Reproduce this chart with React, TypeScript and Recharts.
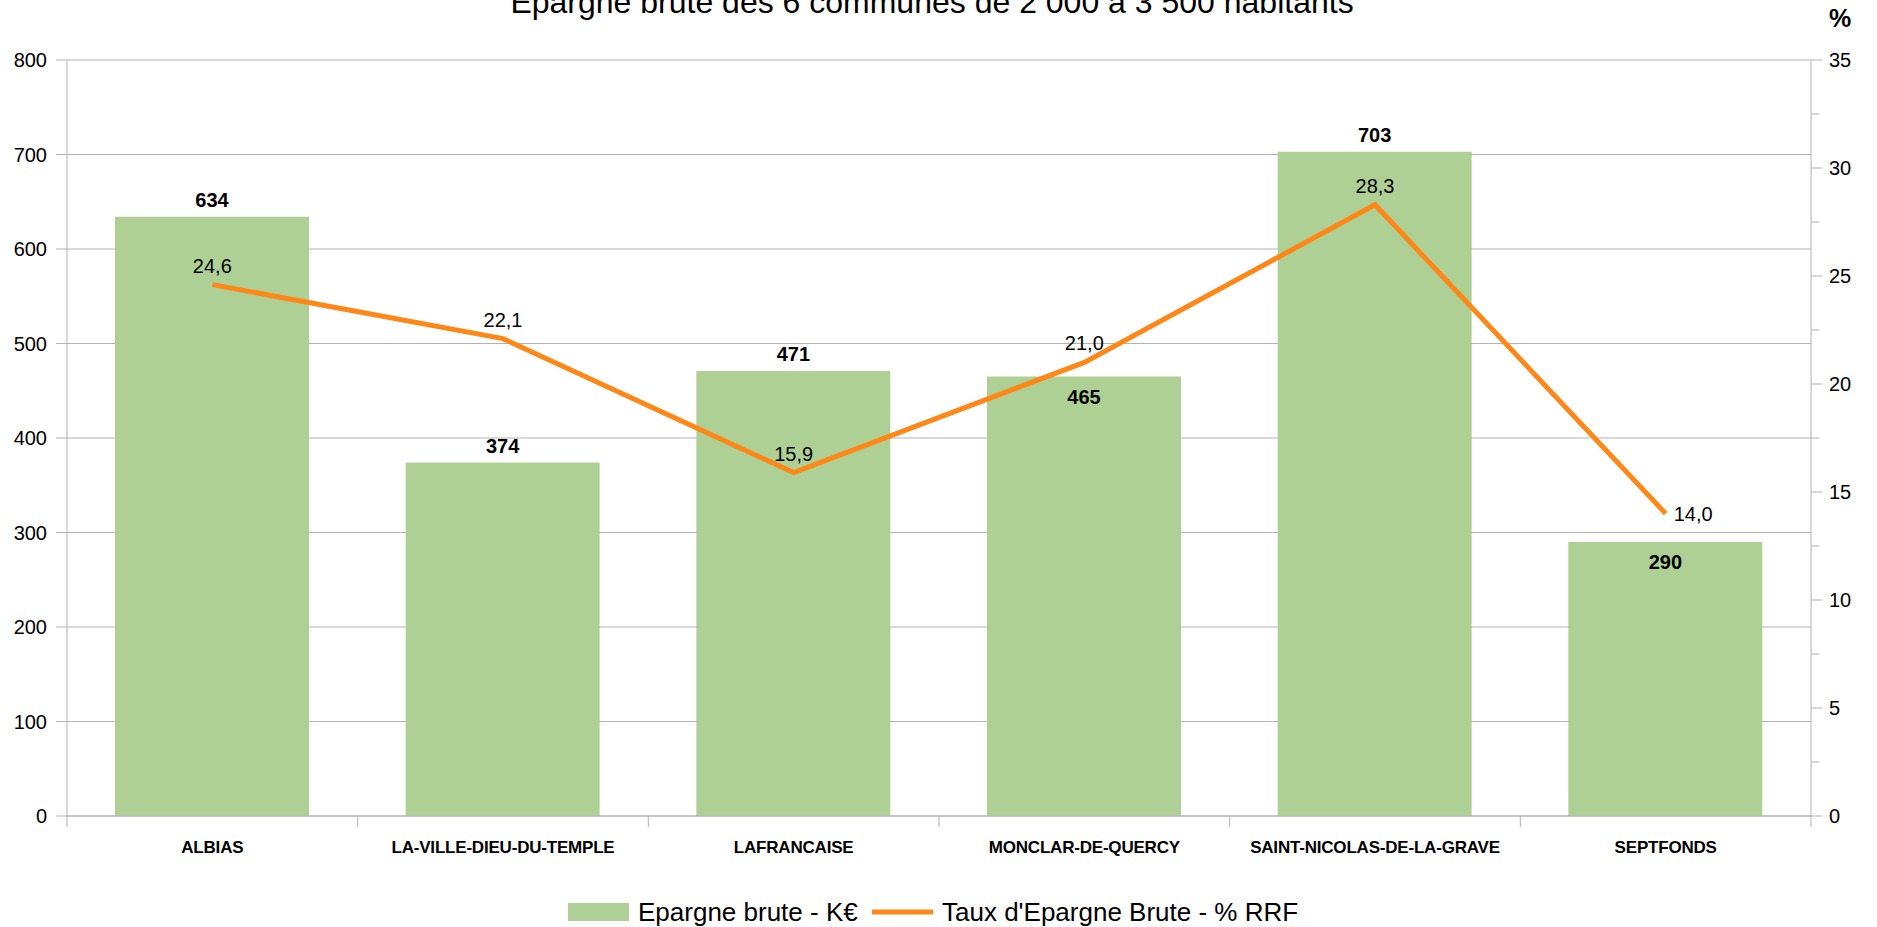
import { ComposedChart, Bar, Line, XAxis, YAxis, CartesianGrid, LabelList } from 'recharts';

const communes = [
  'ALBIAS',
  'LA-VILLE-DIEU-DU-TEMPLE',
  'LAFRANCAISE',
  'MONCLAR-DE-QUERCY',
  'SAINT-NICOLAS-DE-LA-GRAVE',
  'SEPTFONDS',
];
const epargneBrute = [634, 374, 471, 465, 703, 290];
const tauxEpargne = [24.6, 22.1, 15.9, 21.0, 28.3, 14.0];
const leftTicks = [0, 100, 200, 300, 400, 500, 600, 700, 800];
const rightTicks = [0, 2.5, 5, 7.5, 10, 12.5, 15, 17.5, 20, 22.5, 25, 27.5, 30, 32.5, 35];

const W = 1877;
const H = 927;
const LEFT_W = 67;
const RIGHT_W = 66;
const BAND = (W - LEFT_W - RIGHT_W) / communes.length;
const FONT = '"Liberation Sans", Arial, sans-serif';
const GREY = '#b3b3b3';
const GREEN = '#afd095';
const ORANGE = '#ff8717';

const data = communes.map((c, i) => ({ commune: c, epargne: epargneBrute[i], taux: tauxEpargne[i] }));

// bars whose value sits inside the bar (line label would collide above)
const insideBars = ['MONCLAR-DE-QUERCY', 'SEPTFONDS'];

const fr = (v: number) => v.toFixed(1).replace('.', ',');

const CategoryTick = (props: any) => {
  const { x, y, payload, index } = props;
  const last = index === communes.length - 1;
  return (
    <g>
      <line x1={x - BAND / 2} x2={x - BAND / 2} y1={y} y2={y + 11} stroke={GREY} />
      {last && <line x1={x + BAND / 2} x2={x + BAND / 2} y1={y} y2={y + 11} stroke={GREY} />}
      <text x={x} y={y + 37} textAnchor="middle" fontFamily={FONT} fontSize={17} fontWeight="bold" fill="#000" letterSpacing={-0.2}>
        {payload.value}
      </text>
    </g>
  );
};

const RightTick = (props: any) => {
  const { x, y, payload } = props;
  const major = payload.value % 5 === 0;
  return (
    <g>
      <line x1={x} x2={x + (major ? 11 : 8)} y1={y} y2={y} stroke={GREY} />
      {major && (
        <text x={x + 18} y={y + 7} fontFamily={FONT} fontSize={20} fill="#000">
          {payload.value}
        </text>
      )}
    </g>
  );
};

const BarValue = (props: any) => {
  const { x, y, width, value, index } = props;
  const inside = insideBars.includes(communes[index]);
  const cy = inside ? y + 20 : y - 17;
  return (
    <text x={x + width / 2} y={cy + 7} textAnchor="middle" fontFamily={FONT} fontSize={20} fontWeight="bold" fill="#000">
      {value}
    </text>
  );
};

const LineValue = (props: any) => {
  const { x, y, value, index } = props;
  if (index === communes.length - 1) {
    return (
      <text x={x + 8} y={y + 7} fontFamily={FONT} fontSize={20} fill="#000">
        {fr(value)}
      </text>
    );
  }
  return (
    <text x={x} y={y - 12} textAnchor="middle" fontFamily={FONT} fontSize={20} fill="#000">
      {fr(value)}
    </text>
  );
};

export default function App() {
  return (
    <div style={{ position: 'absolute', left: 0, top: 0, width: W, height: H, background: '#fff', fontFamily: FONT }}>
      <ComposedChart width={W} height={H} data={data} margin={{ top: 60, right: 0, bottom: 51, left: 0 }}>
        <CartesianGrid yAxisId="left" vertical={false} stroke={GREY} />
        <XAxis
          dataKey="commune"
          height={60}
          interval={0}
          tickSize={0}
          tickMargin={0}
          tickLine={false}
          axisLine={{ stroke: GREY }}
          tick={<CategoryTick />}
        />
        <YAxis
          yAxisId="left"
          width={LEFT_W}
          domain={[0, 800]}
          ticks={leftTicks}
          interval={0}
          tickSize={11}
          tickMargin={9}
          axisLine={{ stroke: GREY }}
          tickLine={{ stroke: GREY }}
          tick={{ fill: '#000', fontSize: 20, fontFamily: FONT }}
        />
        <YAxis
          yAxisId="right"
          orientation="right"
          width={RIGHT_W}
          domain={[0, 35]}
          ticks={rightTicks}
          interval={0}
          tickSize={0}
          tickMargin={0}
          tickLine={false}
          axisLine={{ stroke: GREY }}
          tick={<RightTick />}
        />
        <Bar yAxisId="left" dataKey="epargne" fill={GREEN} barSize={194} isAnimationActive={false}>
          <LabelList dataKey="epargne" content={<BarValue />} />
        </Bar>
        <Line
          yAxisId="right"
          type="linear"
          dataKey="taux"
          stroke={ORANGE}
          strokeWidth={5}
          strokeLinejoin="miter"
          dot={false}
          isAnimationActive={false}
        >
          <LabelList dataKey="taux" content={<LineValue />} />
        </Line>
      </ComposedChart>
      <svg width={W} height={H} style={{ position: 'absolute', left: 0, top: 0, pointerEvents: 'none' }}>
        <text x={932} y={13} textAnchor="middle" fontFamily={FONT} fontSize={32} fill="#000">
          Epargne brute des 6 communes de 2 000 à 3 500 habitants
        </text>
        <text x={1840} y={27} textAnchor="middle" fontFamily={FONT} fontSize={25} fontWeight="bold" fill="#000">
          %
        </text>
        <rect x={568} y={903} width={61} height={18} fill={GREEN} />
        <text x={638} y={921} fontFamily={FONT} fontSize={26} fill="#000">
          Epargne brute - K€
        </text>
        <line x1={872} x2={933} y1={912} y2={912} stroke={ORANGE} strokeWidth={5} />
        <text x={942} y={921} fontFamily={FONT} fontSize={26} fill="#000">
          Taux d'Epargne Brute - % RRF
        </text>
      </svg>
    </div>
  );
}
